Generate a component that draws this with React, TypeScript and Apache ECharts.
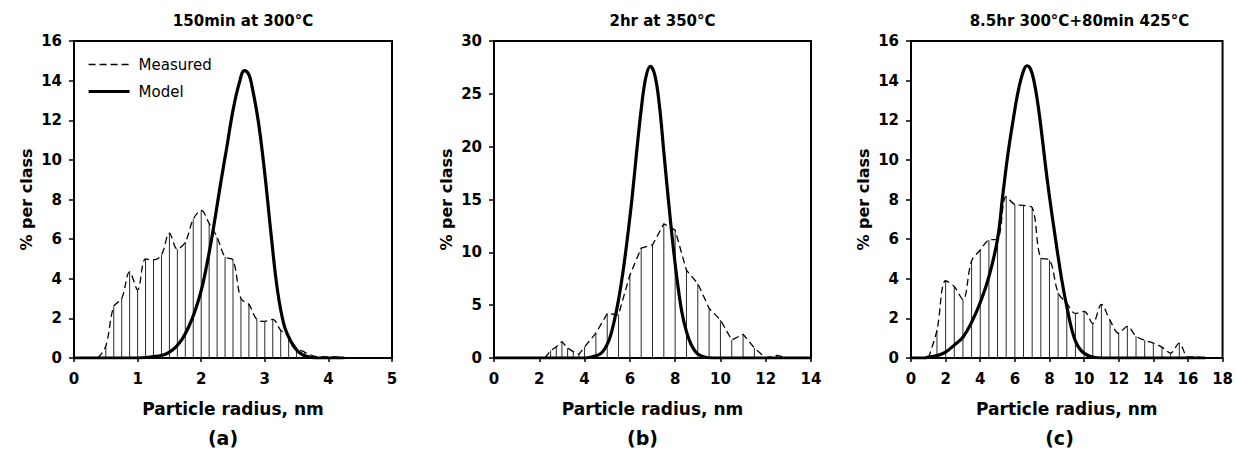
import React, { useEffect, useRef } from "react";
import * as echarts from "echarts";

const FONT = '"DejaVu Sans", "Liberation Sans", Arial, sans-serif';

// Panel titles and labels
const panelTitles = ["150min at 300°C", "2hr at 350°C", "8.5hr 300°C+80min 425°C"];
const panelLetters = ["(a)", "(b)", "(c)"];
const xAxisName = "Particle radius, nm";
const yAxisName = "% per class";
const seriesNames = ["Measured", "Model"];

// Axis ranges
const xMax = [5, 14, 18];
const xStep = [1, 2, 2];
const yMax = [16, 30, 16];
const yStep = [2, 5, 2];

// Panel (a): 150min at 300°C
const radiiA = [0.375, 0.5, 0.625, 0.75, 0.875, 1.0, 1.125, 1.25, 1.375, 1.5, 1.625, 1.75, 1.875, 2.0, 2.125, 2.25, 2.375, 2.5, 2.625, 2.75, 2.875, 3.0, 3.125, 3.25, 3.375, 3.5, 3.625, 3.75, 3.875, 4.0, 4.125, 4.25];
const measuredA = [0, 0.6, 2.6, 3.0, 4.35, 3.45, 5.0, 4.95, 5.2, 6.3, 5.5, 5.85, 7.0, 7.45, 6.8, 6.1, 5.1, 4.95, 3.0, 2.7, 1.95, 1.85, 1.95, 1.4, 1.1, 0.5, 0.3, 0.12, 0.05, 0.05, 0.05, 0];
const modelRadiiA = [0, 1.0, 1.2, 1.4, 1.5, 1.6, 1.7, 1.8, 1.9, 2.0, 2.1, 2.2, 2.3, 2.4, 2.5, 2.6, 2.68, 2.75, 2.8, 2.9, 3.0, 3.1, 3.2, 3.3, 3.4, 3.5, 3.6, 3.7, 3.8, 4.25];
const modelA = [0, 0, 0.05, 0.15, 0.3, 0.55, 0.95, 1.55, 2.35, 3.4, 4.9, 6.7, 8.7, 10.6, 12.5, 13.9, 14.5, 14.3, 13.7, 11.9, 9.3, 6.2, 3.4, 1.7, 0.9, 0.4, 0.15, 0.05, 0, 0];

// Panel (b): 2hr at 350°C
const radiiB = [2.25, 2.5, 2.75, 3.0, 3.25, 3.5, 3.75, 4.0, 4.5, 5.0, 5.5, 6.0, 6.5, 7.0, 7.5, 8.0, 8.5, 9.0, 9.5, 10.0, 10.5, 11.0, 11.5, 12.0, 12.5, 13.0];
const measuredB = [0, 0.7, 1.05, 1.55, 0.95, 0.6, 0.35, 1.05, 2.35, 4.2, 4.1, 7.85, 10.4, 10.7, 12.7, 12.1, 8.3, 7.05, 4.7, 3.6, 1.7, 2.25, 0.95, 0, 0.25, 0];
const modelRadiiB = [0, 4.0, 4.4, 4.7, 4.9, 5.1, 5.3, 5.5, 5.7, 5.9, 6.1, 6.3, 6.5, 6.7, 6.9, 7.1, 7.3, 7.5, 7.7, 7.9, 8.1, 8.3, 8.5, 8.7, 8.9, 9.1, 9.4, 10, 14];
const modelB = [0, 0, 0.15, 0.4, 0.9, 1.8, 3.4, 5.5, 8.2, 11.5, 15.2, 19.5, 23.5, 26.5, 27.6, 26.8, 24.0, 19.5, 15.0, 10.8, 7.2, 4.3, 2.5, 1.3, 0.6, 0.25, 0.05, 0, 0];

// Panel (c): 8.5hr 300°C + 80min 425°C
const radiiC = [1.0, 1.5, 2.0, 2.5, 3.0, 3.5, 4.0, 4.5, 5.0, 5.5, 6.0, 6.5, 7.0, 7.5, 8.0, 8.5, 9.0, 9.5, 10.0, 10.5, 11.0, 11.5, 12.0, 12.5, 13.0, 13.5, 14.0, 14.5, 15.0, 15.5, 16.0, 16.5, 17.0];
const measuredC = [0, 1.4, 3.9, 3.6, 2.95, 4.9, 5.45, 5.95, 6.0, 8.15, 7.75, 7.7, 7.6, 5.05, 4.95, 3.3, 2.75, 2.25, 2.35, 1.75, 2.7, 1.9, 1.25, 1.6, 1.1, 0.9, 0.75, 0.55, 0.25, 0.75, 0.05, 0.05, 0];
const modelRadiiC = [0, 0.8, 1.0, 1.5, 2.0, 2.5, 3.0, 3.5, 4.0, 4.5, 5.0, 5.3, 5.6, 5.9, 6.2, 6.5, 6.7, 6.9, 7.1, 7.3, 7.5, 7.9, 8.3, 8.7, 9.0, 9.4, 9.8, 10.3, 11, 17];
const modelC = [0, 0, 0.05, 0.12, 0.3, 0.65, 1.05, 1.8, 2.8, 4.1, 6.0, 8.2, 10.3, 12.0, 13.5, 14.5, 14.75, 14.6, 14.0, 13.0, 11.7, 8.8, 6.3, 4.0, 2.6, 1.1, 0.4, 0.1, 0, 0];

const panels = [
  { radii: radiiA, measured: measuredA, modelRadii: modelRadiiA, model: modelA, smooth: 0.35 },
  { radii: radiiB, measured: measuredB, modelRadii: modelRadiiB, model: modelB, smooth: 0 },
  { radii: radiiC, measured: measuredC, modelRadii: modelRadiiC, model: modelC, smooth: 0.35 },
];

const gridBoxes = [
  { left: 74, top: 41, width: 318, height: 317 },
  { left: 494, top: 41, width: 317, height: 317 },
  { left: 911, top: 41, width: 317, height: 317 },
];

export default function App() {
  const ref = useRef<HTMLDivElement>(null);

  useEffect(() => {
    if (!ref.current) return;
    const chart = echarts.init(ref.current, null, { renderer: "svg" });

    const grid = gridBoxes.map((g) => ({
      ...g,
      show: true,
      borderColor: "#000",
      borderWidth: 2,
      backgroundColor: "transparent",
      containLabel: false,
    }));

    const xAxis = gridBoxes.map((_, i) => ({
      type: "value",
      gridIndex: i,
      min: 0,
      max: xMax[i],
      interval: xStep[i],
      name: xAxisName,
      nameLocation: "middle",
      nameGap: 42,
      nameTextStyle: { fontFamily: FONT, fontSize: 17, fontWeight: "bold", color: "#000" },
      axisLine: { show: true, onZero: false, lineStyle: { color: "#000", width: 2 } },
      axisTick: { show: true, inside: false, length: 4, lineStyle: { color: "#000", width: 1.5 } },
      axisLabel: { fontFamily: FONT, fontSize: 15, fontWeight: "bold", color: "#000", margin: 13 },
      splitLine: { show: false },
    }));

    const yAxis = gridBoxes.map((_, i) => ({
      type: "value",
      gridIndex: i,
      min: 0,
      max: yMax[i],
      interval: yStep[i],
      name: yAxisName,
      nameLocation: "middle",
      nameGap: 40,
      nameRotate: 90,
      nameTextStyle: { fontFamily: FONT, fontSize: 16, fontWeight: "bold", color: "#000" },
      axisLine: { show: true, lineStyle: { color: "#000", width: 2 } },
      axisTick: { show: true, inside: false, length: 5, lineStyle: { color: "#000", width: 1.5 } },
      axisLabel: { fontFamily: FONT, fontSize: 15, fontWeight: "bold", color: "#000", margin: 12 },
      splitLine: { show: false },
    }));

    const series: any[] = [];
    panels.forEach((p, i) => {
      series.push({
        type: "bar",
        name: "drop" + i,
        xAxisIndex: i,
        yAxisIndex: i,
        barWidth: 1,
        silent: true,
        itemStyle: { color: "#2a2a2a" },
        data: p.radii.map((r, k) => [r, p.measured[k]]),
        z: 1,
      });
      series.push({
        type: "line",
        name: seriesNames[0],
        xAxisIndex: i,
        yAxisIndex: i,
        symbol: "none",
        smooth: p.smooth,
        lineStyle: { color: "#000", width: 1.3, type: [7, 4] },
        itemStyle: { color: "#000" },
        data: p.radii.map((r, k) => [r, p.measured[k]]),
        z: 2,
      });
      series.push({
        type: "line",
        name: seriesNames[1],
        xAxisIndex: i,
        yAxisIndex: i,
        symbol: "none",
        smooth: 0.4,
        lineStyle: { color: "#000", width: 3.2 },
        itemStyle: { color: "#000" },
        data: p.modelRadii.map((r, k) => [r, p.model[k]]),
        z: 3,
      });
    });

    const graphic: any[] = [];
    gridBoxes.forEach((g, i) => {
      const cx = g.left + g.width / 2;
      graphic.push({
        type: "text",
        x: cx + 10,
        y: 21,
        style: {
          text: panelTitles[i],
          font: `bold 15px ${FONT}`,
          fill: "#000",
          align: "center",
          verticalAlign: "middle",
        },
      });
      graphic.push({
        type: "text",
        x: cx - 10,
        y: 438,
        style: {
          text: panelLetters[i],
          font: `bold 19px ${FONT}`,
          fill: "#000",
          align: "center",
          verticalAlign: "middle",
        },
      });
    });

    chart.setOption({
      animation: false,
      backgroundColor: "#fff",
      grid,
      xAxis,
      yAxis,
      legend: {
        data: seriesNames,
        orient: "vertical",
        left: 87,
        top: 57,
        padding: 0,
        itemWidth: 41,
        itemHeight: 14,
        itemGap: 12,
        selectedMode: false,
        itemStyle: { opacity: 0 },
        lineStyle: { width: "inherit" },
        textStyle: { fontFamily: FONT, fontSize: 15, color: "#000", padding: [0, 0, 0, 4] },
      },
      series,
      graphic,
    });

    return () => chart.dispose();
  }, []);

  return (
    <div
      ref={ref}
      style={{ position: "absolute", left: 0, top: 0, width: 1236, height: 452, background: "#fff" }}
    />
  );
}
